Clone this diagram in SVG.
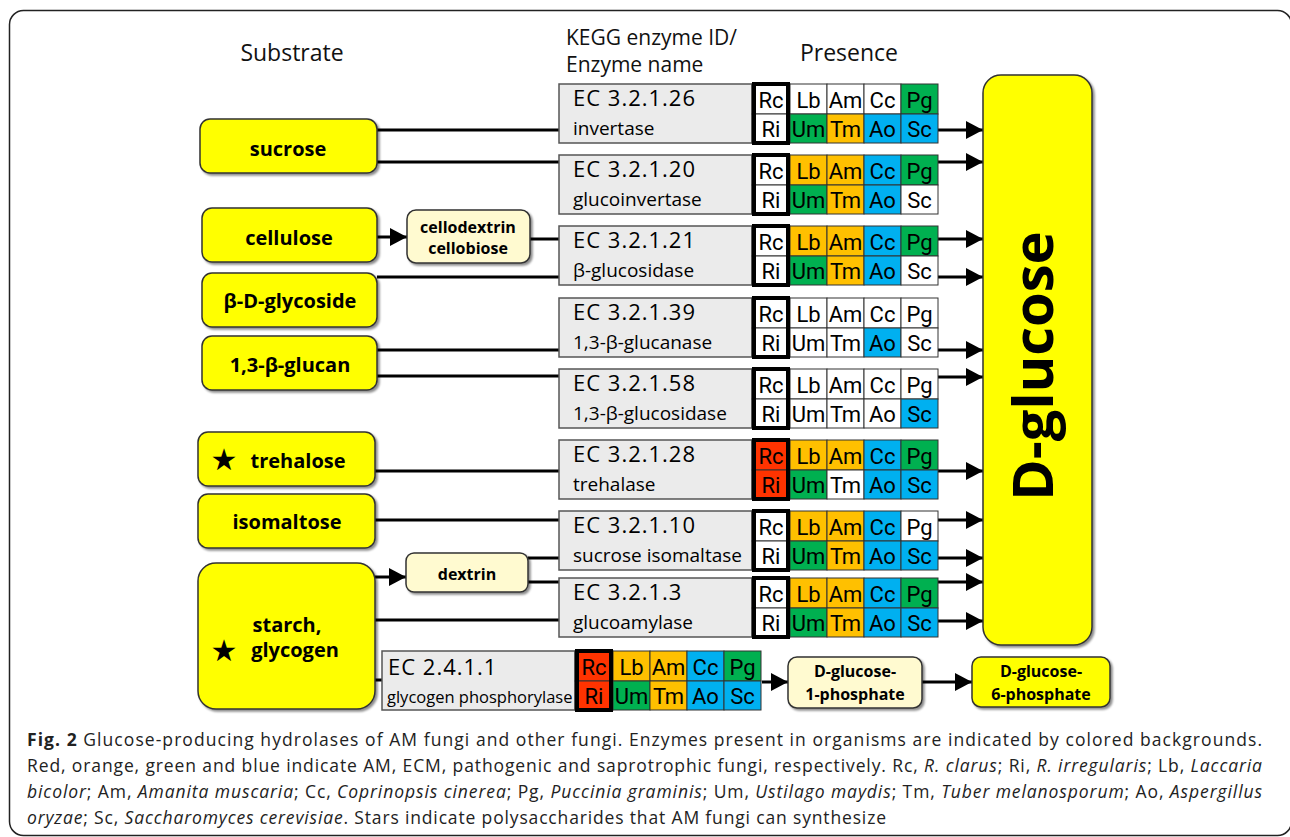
<svg xmlns="http://www.w3.org/2000/svg" width="1290" height="837" viewBox="0 0 1290 837">
<defs>
<filter id="sh" x="-10%" y="-10%" width="130%" height="130%">
<feDropShadow dx="2" dy="2" stdDeviation="1.2" flood-color="#000" flood-opacity="0.45"/>
</filter>
<marker id="ah" viewBox="0 0 17 18" refX="17" refY="9" markerWidth="17" markerHeight="18" markerUnits="userSpaceOnUse" orient="auto">
<path d="M0,0 L17,9 L0,18 z" fill="#000"/>
</marker>
</defs>
<style>
.hd{font-family:"Open Sans","Noto Sans",sans-serif;font-size:23px;fill:#111}
.sub{fill:#FFFF00;stroke:#333;stroke-width:1.5;filter:url(#sh)}
.pale{fill:#FFFAD0;stroke:#333;stroke-width:1.5;filter:url(#sh)}
.nl{font-family:"Open Sans","Noto Sans",sans-serif;font-weight:700;font-size:20px;text-anchor:middle;fill:#000}
.sl{font-family:"Open Sans","Noto Sans",sans-serif;font-weight:700;font-size:16px;text-anchor:middle;fill:#000}
.star{font-family:"DejaVu Sans",sans-serif;font-size:30px;text-anchor:middle;fill:#000}
.gray{fill:#EBEBEB;stroke:#555;stroke-width:1.5}
.c{stroke:#333;stroke-width:1}
.w{fill:#fff}.o{fill:#FFC000}.g{fill:#00B050}.b{fill:#00B0F0}.r{fill:#FF3300}
.bx{fill:none;stroke:#000;stroke-width:4}
.ec{font-family:"Open Sans","Noto Sans",sans-serif;font-size:22px;letter-spacing:1px;fill:#000}
.en{font-family:"Open Sans","Noto Sans",sans-serif;font-size:19px;fill:#000}
.ct{font-family:"Liberation Sans Narrow","Roboto","Liberation Sans",sans-serif;font-size:22px;text-anchor:middle;fill:#000}
.conn line{stroke:#000;stroke-width:3}
.cap{font-family:"Open Sans","Noto Sans",sans-serif;font-size:17.5px;fill:#222}
</style>
<rect x="0" y="0" width="1290" height="837" fill="#fff"/>
<rect id="frame" x="9.5" y="10.5" width="1282" height="825" rx="14" fill="#fff" stroke="#222" stroke-width="1.5"/>

<g id="headers">
<text class="hd" x="292" y="61" text-anchor="middle">Substrate</text>
<text class="hd" x="566" y="45" style="font-size:21px">KEGG enzyme ID/</text>
<text class="hd" x="566" y="72" style="font-size:21px">Enzyme name</text>
<text class="hd" x="849" y="61" text-anchor="middle">Presence</text>
</g>

<g id="connectors" class="conn">
<line x1="377" y1="130" x2="559" y2="130"/>
<line x1="377" y1="162" x2="559" y2="162"/>
<line x1="377" y1="237" x2="407" y2="237" marker-end="url(#ah)"/>
<line x1="530" y1="239" x2="559" y2="239"/>
<line x1="377" y1="277" x2="559" y2="277"/>
<line x1="377" y1="350" x2="559" y2="350"/>
<line x1="377" y1="376" x2="559" y2="376"/>
<line x1="375" y1="471" x2="559" y2="471"/>
<line x1="375" y1="520" x2="559" y2="520"/>
<line x1="375" y1="577" x2="406" y2="577" marker-end="url(#ah)"/>
<line x1="528" y1="558" x2="559" y2="558"/>
<line x1="528" y1="582" x2="559" y2="582"/>
<line x1="375" y1="620" x2="559" y2="620"/>
<line x1="375" y1="680" x2="382" y2="680"/>
<line x1="938" y1="130" x2="983" y2="130" marker-end="url(#ah)"/>
<line x1="938" y1="162" x2="983" y2="162" marker-end="url(#ah)"/>
<line x1="938" y1="239" x2="983" y2="239" marker-end="url(#ah)"/>
<line x1="938" y1="277" x2="983" y2="277" marker-end="url(#ah)"/>
<line x1="938" y1="350" x2="983" y2="350" marker-end="url(#ah)"/>
<line x1="938" y1="377" x2="983" y2="377" marker-end="url(#ah)"/>
<line x1="938" y1="471" x2="983" y2="471" marker-end="url(#ah)"/>
<line x1="938" y1="520" x2="983" y2="520" marker-end="url(#ah)"/>
<line x1="938" y1="558" x2="983" y2="558" marker-end="url(#ah)"/>
<line x1="938" y1="582" x2="983" y2="582" marker-end="url(#ah)"/>
<line x1="938" y1="621" x2="983" y2="621" marker-end="url(#ah)"/>
<line x1="762" y1="682" x2="788" y2="682" marker-end="url(#ah)"/>
<line x1="922" y1="682" x2="972" y2="682" marker-end="url(#ah)"/>
</g>

<g id="n-sucrose"><rect class="sub" x="200" y="119" width="177" height="54" rx="10"/><text class="nl" x="288" y="156">sucrose</text></g>
<g id="n-cellulose"><rect class="sub" x="202" y="208" width="175" height="54" rx="10"/><text class="nl" x="289" y="245">cellulose</text></g>
<g id="n-cellodextrin"><rect class="pale" x="407" y="210" width="123" height="53" rx="9"/><text class="sl" x="468" y="233">cellodextrin</text><text class="sl" x="468" y="254">cellobiose</text></g>
<g id="n-bdglycoside"><rect class="sub" x="202" y="273" width="175" height="54" rx="10"/><text class="nl" x="290" y="308">β-D-glycoside</text></g>
<g id="n-glucan"><rect class="sub" x="202" y="336" width="175" height="54" rx="10"/><text class="nl" x="290" y="372">1,3-β-glucan</text></g>
<g id="n-trehalose"><rect class="sub" x="198" y="432" width="177" height="54" rx="10"/><text class="star" x="224" y="470">★</text><text class="nl" x="298" y="468">trehalose</text></g>
<g id="n-isomaltose"><rect class="sub" x="198" y="494" width="177" height="54" rx="10"/><text class="nl" x="287" y="529">isomaltose</text></g>
<g id="n-starch"><rect class="sub" x="198" y="563" width="177" height="146" rx="18"/><text class="nl" x="287" y="632">starch,</text><text class="star" x="224" y="661">★</text><text class="nl" x="295" y="657">glycogen</text></g>
<g id="n-dextrin"><rect class="pale" x="406" y="553" width="122" height="39" rx="8"/><text class="sl" x="467" y="580">dextrin</text></g>
<g id="n-dglucose"><rect class="sub" x="983" y="75" width="109" height="570" rx="18"/><text class="nl" transform="translate(1053,366) rotate(-90)" x="0" y="0" style="font-size:56px">D-glucose</text></g>
<g id="n-g1p"><rect class="pale" x="788" y="657" width="134" height="51" rx="9"/><text class="sl" x="855" y="677">D-glucose-</text><text class="sl" x="855" y="700">1-phosphate</text></g>
<g id="n-g6p"><rect class="sub" x="972" y="657" width="138" height="50" rx="9"/><text class="sl" x="1041" y="677">D-glucose-</text><text class="sl" x="1041" y="700">6-phosphate</text></g>

<g id="n-ec3-2-1-26" transform="translate(559,84)">
<rect class="gray" width="193" height="59"/>
<text class="ec" x="14" y="22">EC 3.2.1.26</text><text class="en" x="14" y="51">invertase</text>
<rect class="c w" x="193" y="0" width="38" height="30"/><rect class="c w" x="231" y="0" width="37" height="30"/><rect class="c w" x="268" y="0" width="37" height="30"/><rect class="c w" x="305" y="0" width="37" height="30"/><rect class="c g" x="342" y="0" width="37" height="30"/>
<rect class="c w" x="193" y="30" width="38" height="29"/><rect class="c g" x="231" y="30" width="37" height="29"/><rect class="c o" x="268" y="30" width="37" height="29"/><rect class="c b" x="305" y="30" width="37" height="29"/><rect class="c b" x="342" y="30" width="37" height="29"/>
<rect class="bx" x="195" y="0" width="34" height="59"/>
<text class="ct" x="212" y="24">Rc</text><text class="ct" x="249.5" y="24">Lb</text><text class="ct" x="286.5" y="24">Am</text><text class="ct" x="323.5" y="24">Cc</text><text class="ct" x="360.5" y="24">Pg</text>
<text class="ct" x="212" y="53">Ri</text><text class="ct" x="249.5" y="53">Um</text><text class="ct" x="286.5" y="53">Tm</text><text class="ct" x="323.5" y="53">Ao</text><text class="ct" x="360.5" y="53">Sc</text>
</g>

<g id="n-ec3-2-1-20" transform="translate(559,155)">
<rect class="gray" width="193" height="59"/>
<text class="ec" x="14" y="22">EC 3.2.1.20</text><text class="en" x="14" y="51">glucoinvertase</text>
<rect class="c w" x="193" y="0" width="38" height="30"/><rect class="c o" x="231" y="0" width="37" height="30"/><rect class="c o" x="268" y="0" width="37" height="30"/><rect class="c b" x="305" y="0" width="37" height="30"/><rect class="c g" x="342" y="0" width="37" height="30"/>
<rect class="c w" x="193" y="30" width="38" height="29"/><rect class="c g" x="231" y="30" width="37" height="29"/><rect class="c o" x="268" y="30" width="37" height="29"/><rect class="c b" x="305" y="30" width="37" height="29"/><rect class="c w" x="342" y="30" width="37" height="29"/>
<rect class="bx" x="195" y="0" width="34" height="59"/>
<text class="ct" x="212" y="24">Rc</text><text class="ct" x="249.5" y="24">Lb</text><text class="ct" x="286.5" y="24">Am</text><text class="ct" x="323.5" y="24">Cc</text><text class="ct" x="360.5" y="24">Pg</text>
<text class="ct" x="212" y="53">Ri</text><text class="ct" x="249.5" y="53">Um</text><text class="ct" x="286.5" y="53">Tm</text><text class="ct" x="323.5" y="53">Ao</text><text class="ct" x="360.5" y="53">Sc</text>
</g>

<g id="n-ec3-2-1-21" transform="translate(559,226)">
<rect class="gray" width="193" height="59"/>
<text class="ec" x="14" y="22">EC 3.2.1.21</text><text class="en" x="14" y="51">β-glucosidase</text>
<rect class="c w" x="193" y="0" width="38" height="30"/><rect class="c o" x="231" y="0" width="37" height="30"/><rect class="c o" x="268" y="0" width="37" height="30"/><rect class="c b" x="305" y="0" width="37" height="30"/><rect class="c g" x="342" y="0" width="37" height="30"/>
<rect class="c w" x="193" y="30" width="38" height="29"/><rect class="c g" x="231" y="30" width="37" height="29"/><rect class="c o" x="268" y="30" width="37" height="29"/><rect class="c b" x="305" y="30" width="37" height="29"/><rect class="c w" x="342" y="30" width="37" height="29"/>
<rect class="bx" x="195" y="0" width="34" height="59"/>
<text class="ct" x="212" y="24">Rc</text><text class="ct" x="249.5" y="24">Lb</text><text class="ct" x="286.5" y="24">Am</text><text class="ct" x="323.5" y="24">Cc</text><text class="ct" x="360.5" y="24">Pg</text>
<text class="ct" x="212" y="53">Ri</text><text class="ct" x="249.5" y="53">Um</text><text class="ct" x="286.5" y="53">Tm</text><text class="ct" x="323.5" y="53">Ao</text><text class="ct" x="360.5" y="53">Sc</text>
</g>

<g id="n-ec3-2-1-39" transform="translate(559,298)">
<rect class="gray" width="193" height="59"/>
<text class="ec" x="14" y="22">EC 3.2.1.39</text><text class="en" x="14" y="51">1,3-β-glucanase</text>
<rect class="c w" x="193" y="0" width="38" height="30"/><rect class="c w" x="231" y="0" width="37" height="30"/><rect class="c w" x="268" y="0" width="37" height="30"/><rect class="c w" x="305" y="0" width="37" height="30"/><rect class="c w" x="342" y="0" width="37" height="30"/>
<rect class="c w" x="193" y="30" width="38" height="29"/><rect class="c w" x="231" y="30" width="37" height="29"/><rect class="c w" x="268" y="30" width="37" height="29"/><rect class="c b" x="305" y="30" width="37" height="29"/><rect class="c w" x="342" y="30" width="37" height="29"/>
<rect class="bx" x="195" y="0" width="34" height="59"/>
<text class="ct" x="212" y="24">Rc</text><text class="ct" x="249.5" y="24">Lb</text><text class="ct" x="286.5" y="24">Am</text><text class="ct" x="323.5" y="24">Cc</text><text class="ct" x="360.5" y="24">Pg</text>
<text class="ct" x="212" y="53">Ri</text><text class="ct" x="249.5" y="53">Um</text><text class="ct" x="286.5" y="53">Tm</text><text class="ct" x="323.5" y="53">Ao</text><text class="ct" x="360.5" y="53">Sc</text>
</g>

<g id="n-ec3-2-1-58" transform="translate(559,369)">
<rect class="gray" width="193" height="59"/>
<text class="ec" x="14" y="22">EC 3.2.1.58</text><text class="en" x="14" y="51">1,3-β-glucosidase</text>
<rect class="c w" x="193" y="0" width="38" height="30"/><rect class="c w" x="231" y="0" width="37" height="30"/><rect class="c w" x="268" y="0" width="37" height="30"/><rect class="c w" x="305" y="0" width="37" height="30"/><rect class="c w" x="342" y="0" width="37" height="30"/>
<rect class="c w" x="193" y="30" width="38" height="29"/><rect class="c w" x="231" y="30" width="37" height="29"/><rect class="c w" x="268" y="30" width="37" height="29"/><rect class="c w" x="305" y="30" width="37" height="29"/><rect class="c b" x="342" y="30" width="37" height="29"/>
<rect class="bx" x="195" y="0" width="34" height="59"/>
<text class="ct" x="212" y="24">Rc</text><text class="ct" x="249.5" y="24">Lb</text><text class="ct" x="286.5" y="24">Am</text><text class="ct" x="323.5" y="24">Cc</text><text class="ct" x="360.5" y="24">Pg</text>
<text class="ct" x="212" y="53">Ri</text><text class="ct" x="249.5" y="53">Um</text><text class="ct" x="286.5" y="53">Tm</text><text class="ct" x="323.5" y="53">Ao</text><text class="ct" x="360.5" y="53">Sc</text>
</g>

<g id="n-ec3-2-1-28" transform="translate(559,440)">
<rect class="gray" width="193" height="59"/>
<text class="ec" x="14" y="22">EC 3.2.1.28</text><text class="en" x="14" y="51">trehalase</text>
<rect class="c r" x="193" y="0" width="38" height="30"/><rect class="c o" x="231" y="0" width="37" height="30"/><rect class="c o" x="268" y="0" width="37" height="30"/><rect class="c b" x="305" y="0" width="37" height="30"/><rect class="c g" x="342" y="0" width="37" height="30"/>
<rect class="c r" x="193" y="30" width="38" height="29"/><rect class="c g" x="231" y="30" width="37" height="29"/><rect class="c w" x="268" y="30" width="37" height="29"/><rect class="c b" x="305" y="30" width="37" height="29"/><rect class="c b" x="342" y="30" width="37" height="29"/>
<rect class="bx" x="195" y="0" width="34" height="59"/>
<text class="ct" x="212" y="24">Rc</text><text class="ct" x="249.5" y="24">Lb</text><text class="ct" x="286.5" y="24">Am</text><text class="ct" x="323.5" y="24">Cc</text><text class="ct" x="360.5" y="24">Pg</text>
<text class="ct" x="212" y="53">Ri</text><text class="ct" x="249.5" y="53">Um</text><text class="ct" x="286.5" y="53">Tm</text><text class="ct" x="323.5" y="53">Ao</text><text class="ct" x="360.5" y="53">Sc</text>
</g>

<g id="n-ec3-2-1-10" transform="translate(559,511)">
<rect class="gray" width="193" height="59"/>
<text class="ec" x="14" y="22">EC 3.2.1.10</text><text class="en" x="14" y="51">sucrose isomaltase</text>
<rect class="c w" x="193" y="0" width="38" height="30"/><rect class="c o" x="231" y="0" width="37" height="30"/><rect class="c o" x="268" y="0" width="37" height="30"/><rect class="c b" x="305" y="0" width="37" height="30"/><rect class="c w" x="342" y="0" width="37" height="30"/>
<rect class="c w" x="193" y="30" width="38" height="29"/><rect class="c g" x="231" y="30" width="37" height="29"/><rect class="c o" x="268" y="30" width="37" height="29"/><rect class="c b" x="305" y="30" width="37" height="29"/><rect class="c b" x="342" y="30" width="37" height="29"/>
<rect class="bx" x="195" y="0" width="34" height="59"/>
<text class="ct" x="212" y="24">Rc</text><text class="ct" x="249.5" y="24">Lb</text><text class="ct" x="286.5" y="24">Am</text><text class="ct" x="323.5" y="24">Cc</text><text class="ct" x="360.5" y="24">Pg</text>
<text class="ct" x="212" y="53">Ri</text><text class="ct" x="249.5" y="53">Um</text><text class="ct" x="286.5" y="53">Tm</text><text class="ct" x="323.5" y="53">Ao</text><text class="ct" x="360.5" y="53">Sc</text>
</g>

<g id="n-ec3-2-1-3" transform="translate(559,578)">
<rect class="gray" width="193" height="59"/>
<text class="ec" x="14" y="22">EC 3.2.1.3</text><text class="en" x="14" y="51">glucoamylase</text>
<rect class="c w" x="193" y="0" width="38" height="30"/><rect class="c o" x="231" y="0" width="37" height="30"/><rect class="c o" x="268" y="0" width="37" height="30"/><rect class="c b" x="305" y="0" width="37" height="30"/><rect class="c g" x="342" y="0" width="37" height="30"/>
<rect class="c w" x="193" y="30" width="38" height="29"/><rect class="c g" x="231" y="30" width="37" height="29"/><rect class="c o" x="268" y="30" width="37" height="29"/><rect class="c b" x="305" y="30" width="37" height="29"/><rect class="c b" x="342" y="30" width="37" height="29"/>
<rect class="bx" x="195" y="0" width="34" height="59"/>
<text class="ct" x="212" y="24">Rc</text><text class="ct" x="249.5" y="24">Lb</text><text class="ct" x="286.5" y="24">Am</text><text class="ct" x="323.5" y="24">Cc</text><text class="ct" x="360.5" y="24">Pg</text>
<text class="ct" x="212" y="53">Ri</text><text class="ct" x="249.5" y="53">Um</text><text class="ct" x="286.5" y="53">Tm</text><text class="ct" x="323.5" y="53">Ao</text><text class="ct" x="360.5" y="53">Sc</text>
</g>

<g id="n-ec2-4-1-1" transform="translate(382,651)">
<rect class="gray" width="193" height="59"/>
<text class="ec" x="6" y="24">EC 2.4.1.1</text><text class="en" x="5" y="52" style="font-size:16.5px">glycogen phosphorylase</text>
<rect class="c r" x="193" y="0" width="38" height="30"/><rect class="c o" x="231" y="0" width="37" height="30"/><rect class="c o" x="268" y="0" width="37" height="30"/><rect class="c b" x="305" y="0" width="37" height="30"/><rect class="c g" x="342" y="0" width="37" height="30"/>
<rect class="c r" x="193" y="30" width="38" height="29"/><rect class="c g" x="231" y="30" width="37" height="29"/><rect class="c o" x="268" y="30" width="37" height="29"/><rect class="c b" x="305" y="30" width="37" height="29"/><rect class="c b" x="342" y="30" width="37" height="29"/>
<rect class="bx" x="195" y="0" width="34" height="59"/>
<text class="ct" x="212" y="24">Rc</text><text class="ct" x="249.5" y="24">Lb</text><text class="ct" x="286.5" y="24">Am</text><text class="ct" x="323.5" y="24">Cc</text><text class="ct" x="360.5" y="24">Pg</text>
<text class="ct" x="212" y="53">Ri</text><text class="ct" x="249.5" y="53">Um</text><text class="ct" x="286.5" y="53">Tm</text><text class="ct" x="323.5" y="53">Ao</text><text class="ct" x="360.5" y="53">Sc</text>
</g>

<g id="caption" class="cap">
<text x="27" y="746" textLength="1235" lengthAdjust="spacing"><tspan font-weight="700">Fig. 2</tspan> Glucose-producing hydrolases of AM fungi and other fungi. Enzymes present in organisms are indicated by colored backgrounds.</text>
<text x="27" y="772" textLength="1235" lengthAdjust="spacing">Red, orange, green and blue indicate AM, ECM, pathogenic and saprotrophic fungi, respectively. Rc, <tspan font-style="italic">R. clarus</tspan>; Ri, <tspan font-style="italic">R. irregularis</tspan>; Lb, <tspan font-style="italic">Laccaria</tspan></text>
<text x="27" y="798" textLength="1235" lengthAdjust="spacing"><tspan font-style="italic">bicolor</tspan>; Am, <tspan font-style="italic">Amanita muscaria</tspan>; Cc, <tspan font-style="italic">Coprinopsis cinerea</tspan>; Pg, <tspan font-style="italic">Puccinia graminis</tspan>; Um, <tspan font-style="italic">Ustilago maydis</tspan>; Tm, <tspan font-style="italic">Tuber melanosporum</tspan>; Ao, <tspan font-style="italic">Aspergillus</tspan></text>
<text x="27" y="824" textLength="859" lengthAdjust="spacing"><tspan font-style="italic">oryzae</tspan>; Sc, <tspan font-style="italic">Saccharomyces cerevisiae</tspan>. Stars indicate polysaccharides that AM fungi can synthesize</text>
</g>
</svg>
